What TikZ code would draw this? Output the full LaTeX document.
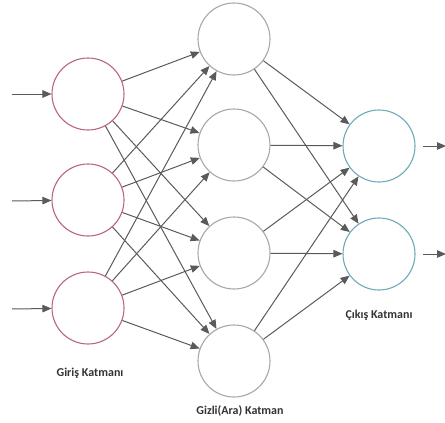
\documentclass[tikz,border=0pt]{standalone}
\usepackage{fontspec}
\setmainfont{Carlito}
\usetikzlibrary{arrows.meta}
\definecolor{incol}{HTML}{B86878}
\definecolor{hidcol}{HTML}{A8A8A8}
\definecolor{outcol}{HTML}{6FAAB8}
\definecolor{edgecol}{HTML}{5A5A5A}
\begin{document}
\begin{tikzpicture}[x=1pt,y=-1pt,
  neuron/.style={circle,draw,line width=1.1pt,minimum size=72pt,inner sep=0pt,fill=white},
  inneuron/.style={neuron,draw=incol},
  hidneuron/.style={neuron,draw=hidcol},
  outneuron/.style={neuron,draw=outcol},
  conn/.style={draw=edgecol,line width=1pt,-{Triangle[length=9pt,width=7.5pt]}},
  lbl/.style={font=\bfseries\fontsize{12}{14}\selectfont,text=black!80}]
\useasboundingbox (0,0) rectangle (445,423);
\node[inneuron] (i1) at (88,94) {};
\node[inneuron] (i2) at (88,200) {};
\node[inneuron] (i3) at (88,308) {};
\node[hidneuron] (h1) at (234,39) {};
\node[hidneuron] (h2) at (234,145) {};
\node[hidneuron] (h3) at (234,253) {};
\node[hidneuron] (h4) at (234,361) {};
\node[outneuron] (o1) at (379,146) {};
\node[outneuron] (o2) at (379,254) {};
\coordinate (a1) at (12,94);
\coordinate (a2) at (12,201);
\coordinate (a3) at (12,309);
\coordinate (b1) at (446,146);
\coordinate (b2) at (446,254);
\coordinate (c1) at (423,146);
\coordinate (c2) at (423,254);
\foreach \i in {1,2,3} { \draw[conn] (a\i) -- (i\i); }
\foreach \i in {1,2,3} { \foreach \h in {1,2,3,4} { \draw[conn] (i\i) -- (h\h); } }
\foreach \h in {1,2,3,4} { \foreach \o in {1,2} { \draw[conn] (h\h) -- (o\o); } }
\draw[conn] (c1) -- (b1);
\draw[conn] (c2) -- (b2);
\node[lbl] (l1) at (90,373) {Giriş Katmanı};
\node[lbl] (l2) at (240,411) {Gizli(Ara) Katman};
\node[lbl] (l3) at (379,315) {Çıkış Katmanı};
\end{tikzpicture}
\end{document}
